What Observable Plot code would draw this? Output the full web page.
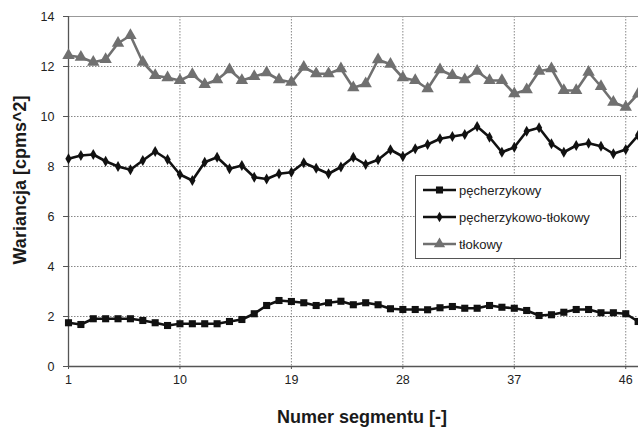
<!DOCTYPE html>
<html>
<head>
<meta charset="utf-8">
<script src="https://cdn.jsdelivr.net/npm/d3@7"></script>
<script src="https://cdn.jsdelivr.net/npm/@observablehq/plot@0.6"></script>
<style>
  body { margin: 0; background: #fff; }
  #chart { position: relative; width: 638px; height: 429px; overflow: hidden; }
</style>
</head>
<body>
<div id="chart"></div>
<script>
// Segment numbers
const segments = d3.range(1, 48);
const xTicks = [1, 10, 19, 28, 37, 46];
const yTicks = [0, 2, 4, 6, 8, 10, 12, 14];

const seriesNames = ["pęcherzykowy", "pęcherzykowo-tłokowy", "tłokowy"];

const pecherzykowy = [
  1.75, 1.68, 1.91, 1.91, 1.91, 1.91, 1.84, 1.75, 1.64, 1.71,
  1.71, 1.71, 1.71, 1.80, 1.88, 2.11, 2.44, 2.64, 2.60, 2.55,
  2.44, 2.55, 2.61, 2.47, 2.55, 2.47, 2.31, 2.28, 2.28, 2.27,
  2.35, 2.40, 2.33, 2.33, 2.44, 2.37, 2.33, 2.24, 2.04, 2.07,
  2.17, 2.28, 2.28, 2.15, 2.15, 2.11, 1.80
];
const pecherzykowoTlokowy = [
  8.31, 8.44, 8.48, 8.21, 8.00, 7.87, 8.24, 8.60, 8.28, 7.68,
  7.44, 8.17, 8.37, 7.91, 8.04, 7.57, 7.50, 7.71, 7.77, 8.15,
  7.93, 7.71, 7.98, 8.37, 8.08, 8.27, 8.67, 8.40, 8.71, 8.88,
  9.11, 9.20, 9.28, 9.60, 9.17, 8.57, 8.77, 9.41, 9.55, 8.91,
  8.57, 8.84, 8.93, 8.81, 8.51, 8.68, 9.25
];
const tlokowy = [
  12.44, 12.37, 12.17, 12.28, 12.93, 13.24, 12.17, 11.64, 11.55, 11.44,
  11.68, 11.28, 11.47, 11.87, 11.44, 11.60, 11.75, 11.47, 11.37, 11.97,
  11.71, 11.71, 11.91, 11.15, 11.31, 12.27, 12.09, 11.55, 11.44, 11.11,
  11.87, 11.64, 11.47, 11.81, 11.44, 11.44, 10.91, 11.07, 11.81, 11.91,
  11.04, 11.04, 11.77, 11.20, 10.57, 10.37, 10.90
];

const colors = ["#111111", "#111111", "#707070"];
const symbols = ["square", "diamond", "triangle"];
const radii = [4.0, 3.3, 4.6];

const allSeries = [pecherzykowy, pecherzykowoTlokowy, tlokowy];
const data = allSeries.flatMap((vals, s) =>
  vals.map((v, i) => ({ seg: segments[i], value: v, series: seriesNames[s] }))
);

const font = "'Liberation Sans', Arial, sans-serif";

const marks = [
  Plot.gridY(yTicks.filter(d => d > 0 && d < 14), { stroke: "#888", strokeOpacity: 1, strokeDasharray: "1.5,1.5", strokeWidth: 1 }),
  Plot.gridX(xTicks.filter(d => d > 1), { stroke: "#888", strokeOpacity: 1, strokeDasharray: "1.5,1.5", strokeWidth: 1 }),
  Plot.ruleY([14], { stroke: "#999", strokeWidth: 1.2 }),
  Plot.axisY(yTicks, { tickSize: 5, tickPadding: 9, fontSize: 12.5, fill: "#222", stroke: "#555", label: null }),
  Plot.axisX(xTicks, { tickSize: 3, tickPadding: 6, fontSize: 12.5, fill: "#222", stroke: "#555", label: null }),
  Plot.ruleX([1], { stroke: "#555", strokeWidth: 1.3 }),
  Plot.ruleY([0], { stroke: "#555", strokeWidth: 1.3 })
];

seriesNames.forEach((name, s) => {
  const d = data.filter(r => r.series === name);
  marks.push(Plot.line(d, { x: "seg", y: "value", stroke: colors[s], strokeWidth: 2.6 }));
  marks.push(Plot.dot(d, { x: "seg", y: "value", symbol: () => symbols[s], fill: colors[s], stroke: "none", r: radii[s] }));
});

const chart = Plot.plot({
  width: 638,
  height: 429,
  marginLeft: 68,
  marginRight: 0,
  marginTop: 16,
  marginBottom: 63,
  style: { fontFamily: font, background: "#fff", overflow: "hidden" },
  x: { domain: [1, 47.03], axis: null },
  y: { domain: [0, 14], axis: null },
  marks
});

const svg = d3.select(chart);

// Axis titles
svg.append("text")
  .attr("x", 362).attr("y", 423)
  .attr("text-anchor", "middle")
  .attr("font-family", font).attr("font-weight", "bold").attr("font-size", 18)
  .attr("fill", "#1a1a1a")
  .text("Numer segmentu [-]");

svg.append("text")
  .attr("transform", "translate(26,180) rotate(-90)")
  .attr("text-anchor", "middle")
  .attr("font-family", font).attr("font-weight", "bold").attr("font-size", 18)
  .attr("fill", "#1a1a1a")
  .text("Wariancja [cpms^2]");

// Legend
const lg = svg.append("g");
lg.append("rect")
  .attr("x", 415.5).attr("y", 175.5).attr("width", 205).attr("height", 83)
  .attr("fill", "#fff").attr("stroke", "#555").attr("stroke-width", 1);
const legendRows = [190, 217, 244];
const symPath = {
  square: d3.symbol(d3.symbolSquare, 50)(),
  diamond: d3.symbol(d3.symbolDiamond, 32)(),
  triangle: d3.symbol(d3.symbolTriangle, 55)()
};
seriesNames.forEach((name, s) => {
  const y = legendRows[s];
  lg.append("line").attr("x1", 423).attr("x2", 456).attr("y1", y).attr("y2", y)
    .attr("stroke", colors[s]).attr("stroke-width", 2.6);
  lg.append("path").attr("d", symPath[symbols[s]]).attr("transform", `translate(439.5,${y})`)
    .attr("fill", colors[s]);
  lg.append("text").attr("x", 459).attr("y", y + 4.5)
    .attr("text-anchor", "start")
    .attr("font-family", font).attr("font-size", 13).attr("fill", "#222")
    .text(name);
});

document.getElementById("chart").appendChild(chart);
</script>
</body>
</html>
